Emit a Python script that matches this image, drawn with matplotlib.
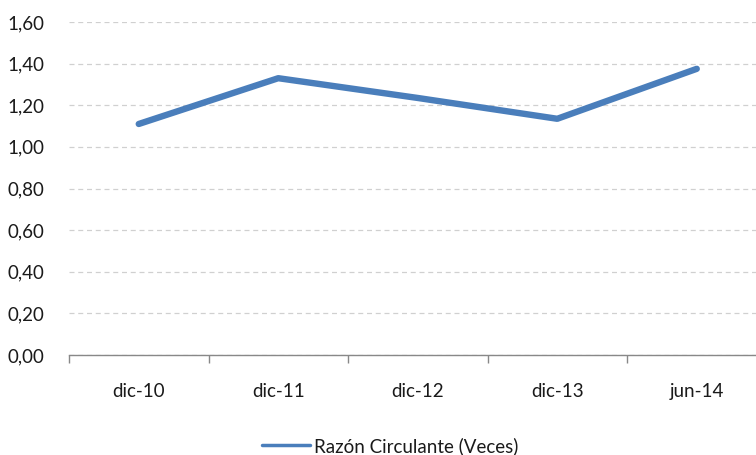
import matplotlib
matplotlib.use("Agg")
import matplotlib.pyplot as plt
from matplotlib.ticker import FuncFormatter

periodos = ["dic-10", "dic-11", "dic-12", "dic-13", "jun-14"]
razon = [1.11, 1.33, 1.235, 1.135, 1.375]
serie = "Razón Circulante (Veces)"

plt.rcParams['font.family'] = ['Lato', 'DejaVu Sans']

fig = plt.figure(figsize=(7.56, 4.55), dpi=100)
ax = fig.add_axes([69 / 756, 100 / 455, 697.5 / 756, 333 / 455])

x = list(range(len(periodos)))
ax.plot(x, razon, color="#4A7EBB", lw=4.6, solid_capstyle="round",
        solid_joinstyle="round", label=serie, zorder=3)

ax.set_xlim(-0.5, len(periodos) - 0.5)
ax.set_ylim(0, 1.6)
ax.set_yticks([i * 0.2 for i in range(9)])
ax.yaxis.set_major_formatter(FuncFormatter(lambda v, p: f"{v:.2f}".replace(".", ",")))

ax.set_xticks(x)
ax.set_xticklabels(periodos)
ax.set_xticks([i - 0.5 for i in range(len(periodos) + 1)], minor=True)
ax.tick_params(axis="x", which="major", length=0, pad=20, labelsize=13.5, colors="#1a1a1a")
ax.tick_params(axis="x", which="minor", length=6, width=1, color="#888888", direction="out")
ax.tick_params(axis="y", length=0, pad=18, labelsize=13.5, colors="#1a1a1a")

ax.grid(axis="y", color="#D0D0D0", ls=(0, (4, 3)), lw=0.9)
ax.set_axisbelow(True)
for s in ["top", "right", "left"]:
    ax.spines[s].set_visible(False)
ax.spines["bottom"].set_color("#888888")
ax.spines["bottom"].set_linewidth(1)

leg = fig.legend(loc="center", bbox_to_anchor=(390 / 756, 1 - 446 / 455), frameon=False,
                 fontsize=13.5, handlelength=2.6, handletextpad=0.2)
leg.get_lines()[0].set_linewidth(2.5)
for t in leg.get_texts():
    t.set_color("#1a1a1a")

fig.savefig("out.png", dpi=100)
